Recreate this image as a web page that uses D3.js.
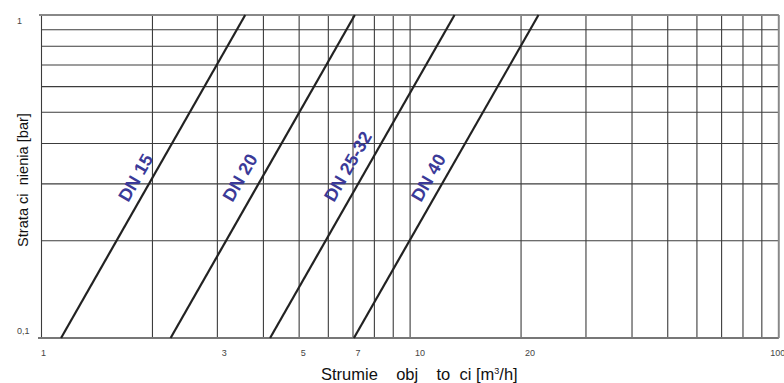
<!DOCTYPE html>
<html>
<head>
<meta charset="utf-8">
<script src="https://cdn.jsdelivr.net/npm/d3@7"></script>
<style>
html, body { margin: 0; padding: 0; background: #fff; }
svg { display: block; font-family: Arial, "Liberation Sans", sans-serif; }
</style>
</head>
<body>
<svg id="chart" width="784" height="383"></svg>
<script>
// DANE
const seriesNames = ["DN 15", "DN 20", "DN 25-32", "DN 40"];
const qAtLow = [1.13, 2.24, 4.17, 7.04];   // przeplyw [m3/h] przy 0,1 bar
const qAtHigh = [3.57, 7.08, 13.2, 22.3];  // przeplyw [m3/h] przy 1 bar
const pEnds = [0.1, 1];
const xGrid = [1, 2, 3, 4, 5, 6, 7, 8, 9, 10, 20, 30, 40, 50, 60, 70, 80, 90, 100];
const yGrid = [0.1, 0.2, 0.3, 0.4, 0.5, 0.6, 0.7, 0.8, 0.9, 1];
const xTickLabels = [1, 3, 5, 7, 10, 20, 100];
const yTickLabels = [1, 0.1];
const labelQ = [1.72, 3.3, 6.22, 10.7];  // gdzie zaczyna sie napis DN
const labelP = 0.262;

// UKLAD
const xTickDx = [2, 7, 4, 5, 10, 9, -1];
const yTickDy = [9, -4];
const LINE_COLOR = "#222";
const GRID_COLOR = "#3c3c3c";
const LABEL_COLOR = "#3b3a98";

const svg = d3.select("#chart");
const x = d3.scaleLog().domain([1, 100]).range([41.5, 778.7]);
const y = d3.scaleLog().domain([0.1, 1]).range([338, 15]);

// siatka
svg.append("g").selectAll("line").data(xGrid).join("line")
  .attr("x1", d => x(d)).attr("x2", d => x(d))
  .attr("y1", y(1)).attr("y2", y(0.1))
  .attr("stroke", GRID_COLOR).attr("stroke-width", 1.1);

svg.append("g").selectAll("line").data(yGrid).join("line")
  .attr("x1", x(1)).attr("x2", x(100))
  .attr("y1", d => y(d)).attr("y2", d => y(d))
  .attr("stroke", GRID_COLOR).attr("stroke-width", 1.1);

// ramka
svg.append("line").attr("x1", 38).attr("x2", x(100)).attr("y1", y(0.1)).attr("y2", y(0.1))
  .attr("stroke", "#777").attr("stroke-width", 1.8);
svg.append("line").attr("x1", 39).attr("x2", x(100)).attr("y1", y(1)).attr("y2", y(1))
  .attr("stroke", "#888").attr("stroke-width", 1.8);
svg.append("line").attr("x1", x(100)).attr("x2", x(100)).attr("y1", y(1)).attr("y2", y(0.1))
  .attr("stroke", "#888").attr("stroke-width", 1.8);

// opisy osi
svg.append("g").selectAll("text").data(xTickLabels).join("text")
  .attr("x", (d, i) => x(d) + xTickDx[i]).attr("y", 356)
  .attr("text-anchor", "middle").attr("font-size", 9).attr("fill", "#444")
  .text(d => d);

svg.append("g").selectAll("text").data(yTickLabels).join("text")
  .attr("x", 17).attr("y", (d, i) => y(d) + yTickDy[i])
  .attr("font-size", 9).attr("fill", "#444")
  .text(d => String(d).replace(".", ","));

const xt = svg.append("text").attr("x", 321).attr("y", 380)
  .attr("font-size", 16.5).attr("fill", "#111").style("white-space", "pre");
xt.append("tspan").text("Strumie    obj    to  ci [m");
xt.append("tspan").attr("font-size", 9).attr("dy", -6).text("3");
xt.append("tspan").attr("dy", 6).text("/h]");

svg.append("text")
  .attr("transform", "translate(28,180) rotate(-90)")
  .attr("text-anchor", "middle").attr("font-size", 14.6).attr("fill", "#111")
  .style("white-space", "pre")
  .text("Strata ci  nienia [bar]");

// charakterystyki
const line = d3.line().x(d => x(d[0])).y(d => y(d[1]));
const curves = seriesNames.map((name, i) => ({
  name, pts: [[qAtLow[i], pEnds[0]], [qAtHigh[i], pEnds[1]]], lq: labelQ[i]
}));

svg.append("g").selectAll("path").data(curves).join("path")
  .attr("d", d => line(d.pts))
  .attr("fill", "none").attr("stroke", LINE_COLOR).attr("stroke-width", 2.2);

svg.append("g").selectAll("text").data(curves).join("text")
  .attr("transform", d => `translate(${x(d.lq)},${y(labelP)}) rotate(-60)`)
  .attr("font-size", 18).attr("font-weight", "bold").attr("fill", LABEL_COLOR)
  .text(d => d.name);
</script>
</body>
</html>
